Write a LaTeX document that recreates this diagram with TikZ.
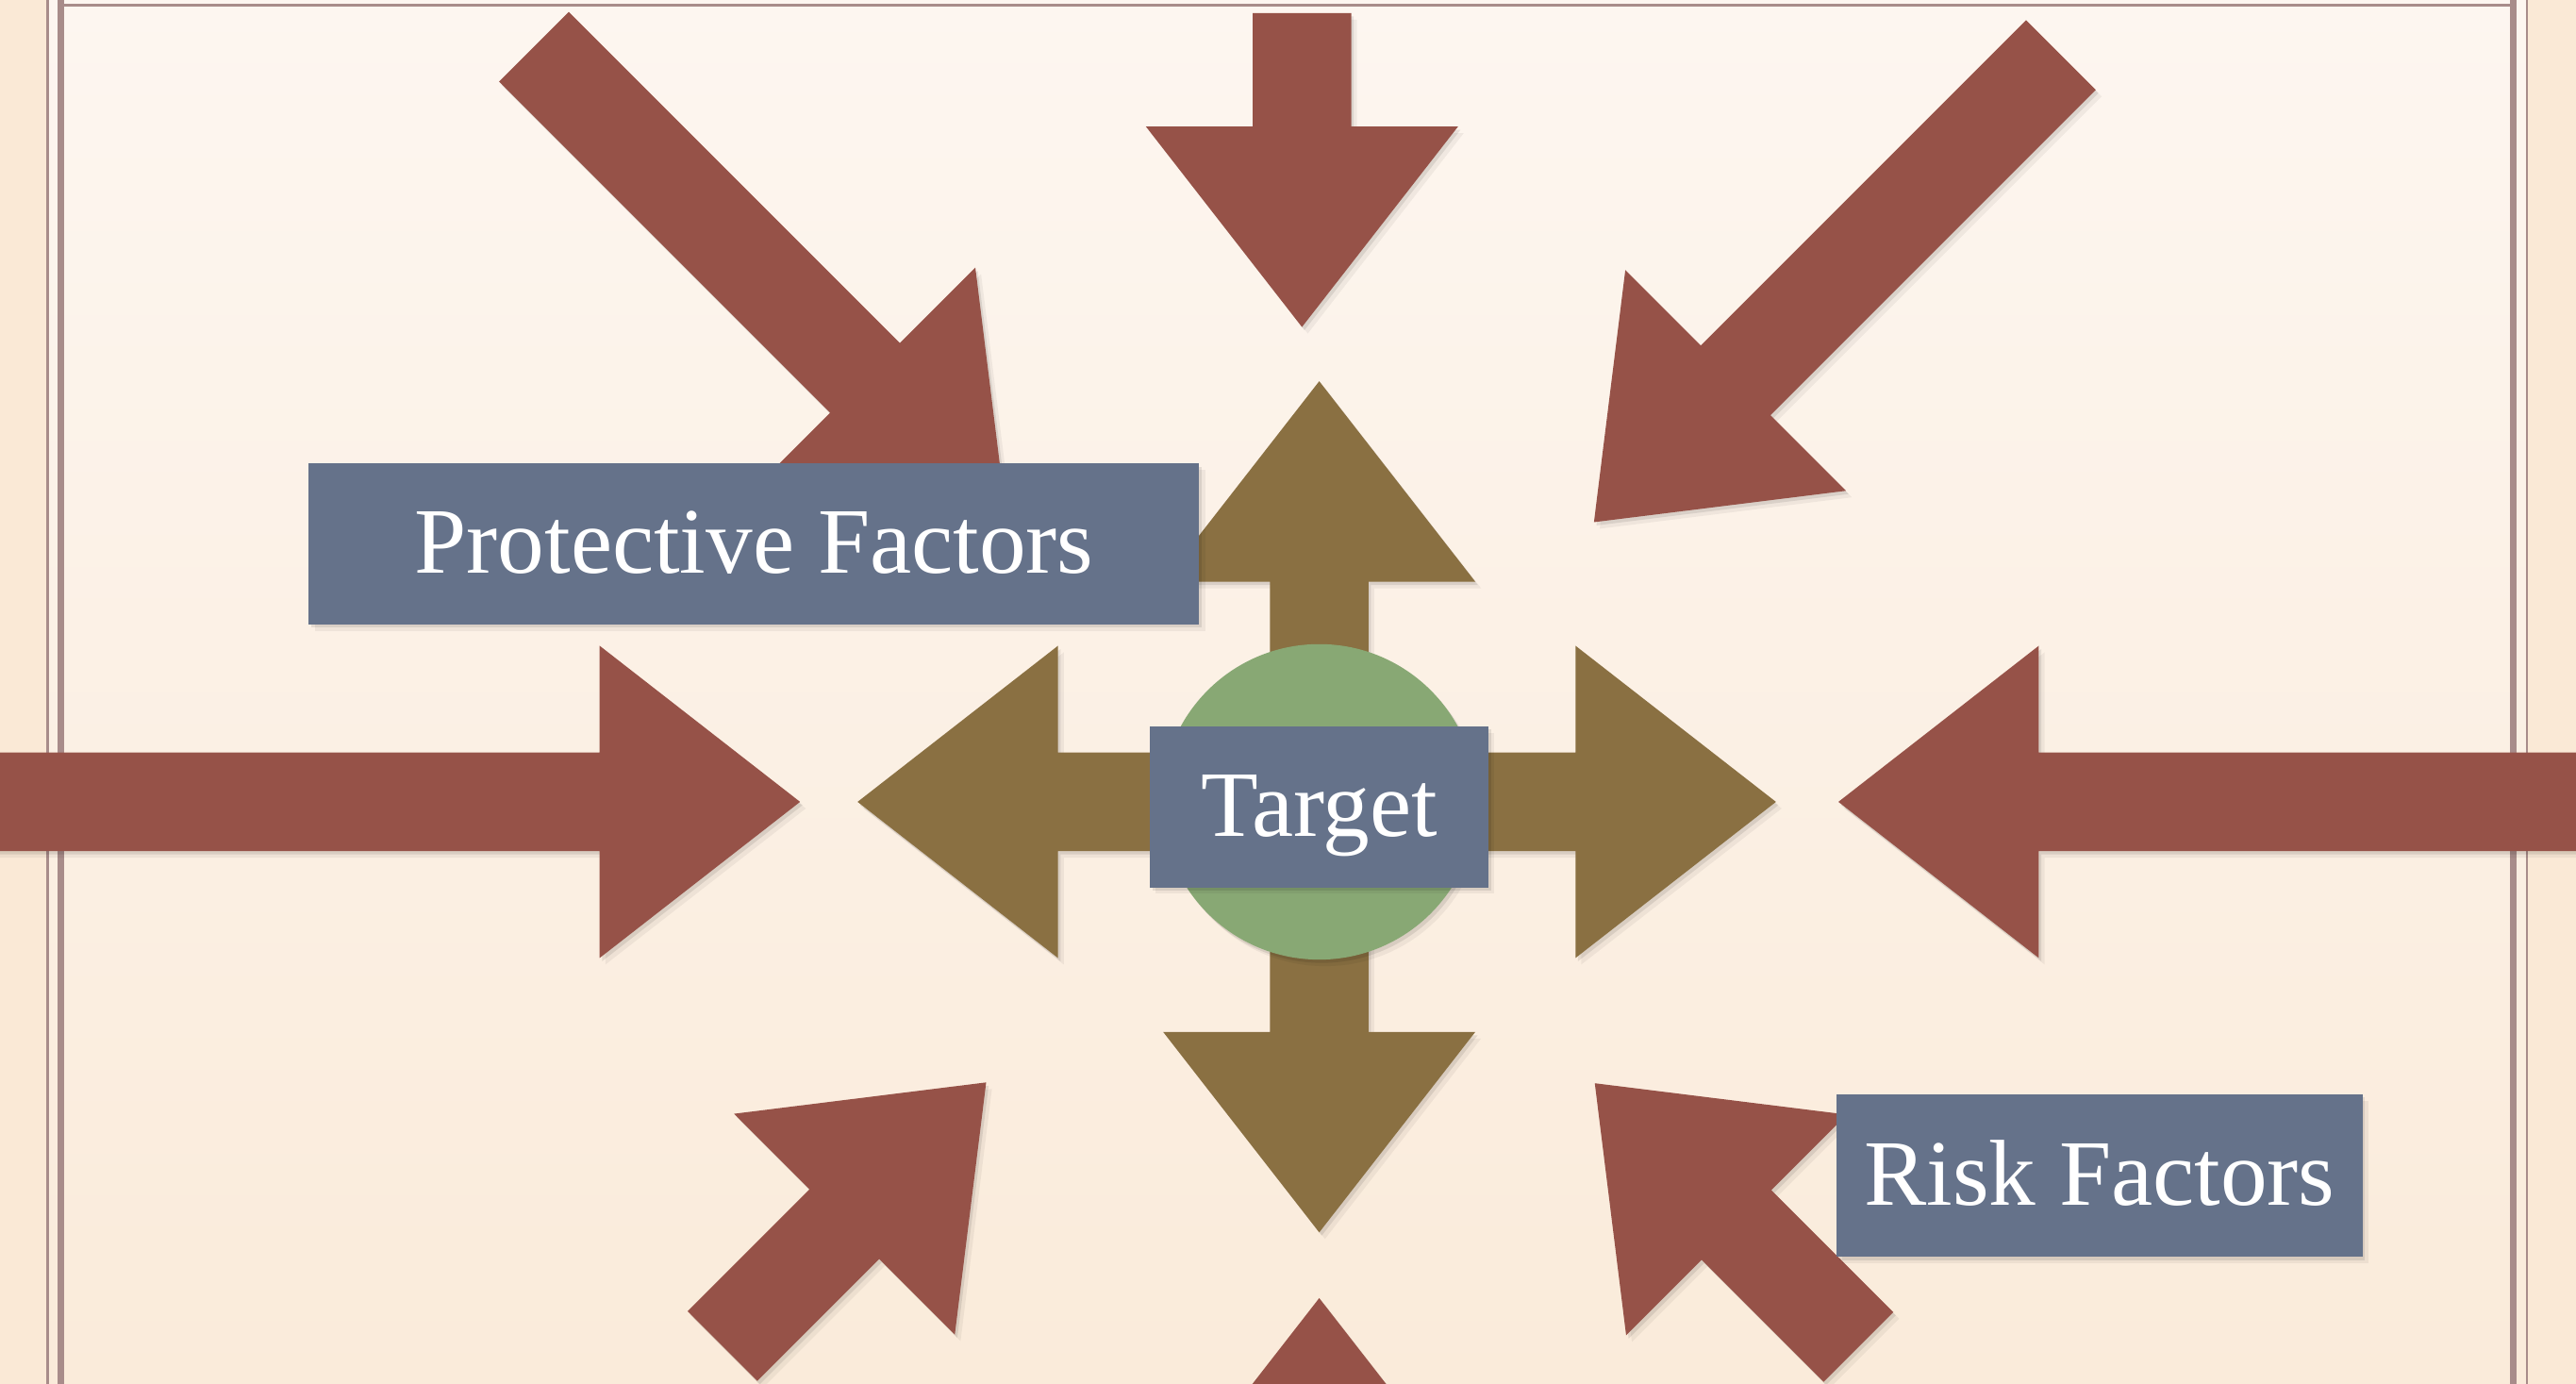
\documentclass[tikz,border=0pt]{standalone}
\usepackage{fontspec}
\setmainfont{Liberation Serif}
\definecolor{outerpaper}{HTML}{FAE9D6}
\definecolor{papertop}{HTML}{FDF6F0}
\definecolor{paperbottom}{HTML}{FAEBDA}
\definecolor{frameline}{HTML}{A88C8A}
\definecolor{riskred}{HTML}{965248}
\definecolor{olive}{HTML}{8A7042}
\definecolor{targetgreen}{HTML}{88A874}
\definecolor{boxblue}{HTML}{65728A}
\tikzset{
  softshadow/.style={
    preaction={fill=black, opacity=.05, transform canvas={shift={(3.5pt,-4pt)}}},
    preaction={fill=black, opacity=.09, transform canvas={shift={(1.5pt,-2pt)}}}},
  redshape/.style={fill=riskred, softshadow},
  oliveshape/.style={fill=olive, softshadow},
  labelbox/.style={fill=boxblue, text=white, inner sep=0pt, text height=40pt, text depth=4pt,
    font=\fontsize{57}{62}\selectfont, softshadow},
  framerule/.style={draw=frameline}
}
% #1 style, #2 x, #3 y (base centre of head), #4 visual angle, #5 shaft length
\newcommand\shapearrow[5]{%
  \fill[#1, shift={(#2,#3)}, rotate=#4]
    (0,-30) -- (-#5,-30) -- (-#5,30) -- (0,30) -- (0,95) -- (122,0) -- (0,-95) -- cycle;}
\begin{document}
\begin{tikzpicture}[x=1pt,y=-1pt]
\useasboundingbox (0,0) rectangle (1568,842);
% paper
\fill[outerpaper] (0,0) rectangle (1568,842);
\shade[top color=papertop, bottom color=paperbottom] (29,0) rectangle (1538,842);
% frame
\draw[framerule, line width=1.2pt] (29,0) -- (29,842);
\draw[framerule, line width=4pt] (37,0) -- (37,842);
\draw[framerule, line width=1.7pt] (37,3.2) -- (1530,3.2);
\draw[framerule, line width=4pt] (1530,0) -- (1530,842);
\draw[framerule, line width=1.2pt] (1538,0) -- (1538,842);
\begin{scope}
\clip (0,0) rectangle (1568,842);
% outer red arrows
\shapearrow{redshape}{526.5}{230}{-45}{285}
\shapearrow{redshape}{792.5}{77}{-90}{69}
\shapearrow{redshape}{1056.5}{231.5}{-135}{280}
\shapearrow{redshape}{365}{488}{0}{390}
\shapearrow{redshape}{1241}{488}{180}{350}
\shapearrow{redshape}{514}{745}{45}{105}
\shapearrow{redshape}{1057}{745.5}{135}{105}
\shapearrow{redshape}{803}{912}{90}{60}
% olive four-way arrows from target
\shapearrow{oliveshape}{803}{354}{90}{134}
\shapearrow{oliveshape}{803}{628}{-90}{134}
\shapearrow{oliveshape}{644}{488}{180}{159}
\shapearrow{oliveshape}{959}{488}{0}{156}
\end{scope}
% target disc and labels
\node[circle, fill=targetgreen, minimum size=192pt, inner sep=0pt, softshadow] (targetdisc) at (803,488) {};
\node[labelbox, minimum width=542pt, minimum height=98pt] (protective) at (459,331) {Protective Factors};
\node[labelbox, minimum width=206pt, minimum height=98pt] (target) at (803,491) {Target};
\node[labelbox, minimum width=320pt, minimum height=99pt] (risk) at (1278,715.5) {Risk Factors};
\end{tikzpicture}
\end{document}
